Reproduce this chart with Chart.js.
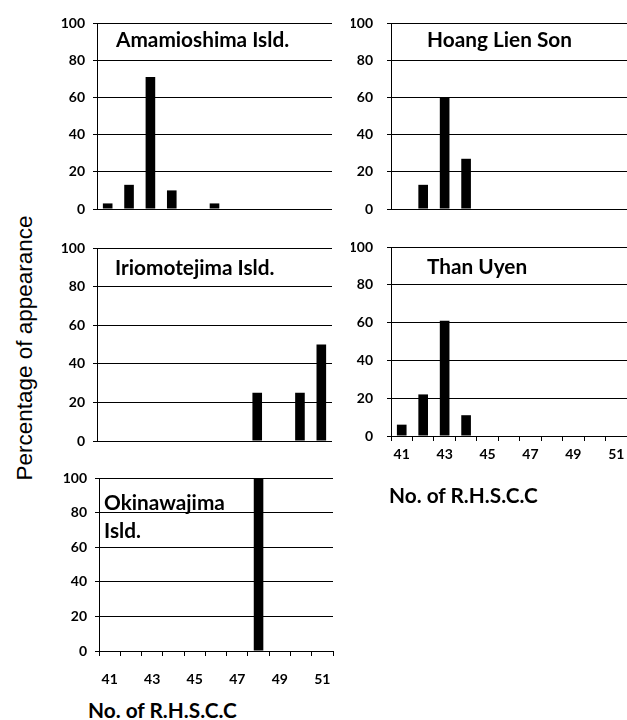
<!DOCTYPE html>
<html>
<head>
<meta charset="utf-8">
<script src="https://cdn.jsdelivr.net/npm/chart.js@4"></script>
<style>
  body { margin: 0; background: #fff; width: 627px; height: 720px; overflow: hidden; position: relative; }
  canvas { position: absolute; }
  .lbl { position: absolute; font-family: Lato, sans-serif; font-weight: bold; font-size: 20.8px; line-height: 22px; color: #000; white-space: nowrap; }
  #ytitle { position: absolute; font-family: "Liberation Sans", Arial, sans-serif; font-size: 22.5px; line-height: 26px; white-space: nowrap;
            left: 25px; top: 348px; transform: translate(-50%, -50%) rotate(-90deg); }
</style>
</head>
<body>
<canvas id="c1"></canvas>
<canvas id="c2"></canvas>
<canvas id="c3"></canvas>
<canvas id="c4"></canvas>
<canvas id="c5"></canvas>

<div class="lbl" style="left:116px; top:28px;">Amamioshima Isld.</div>
<div class="lbl" style="left:427px; top:28px;">Hoang Lien Son</div>
<div class="lbl" style="left:115px; top:256px;">Iriomotejima Isld.</div>
<div class="lbl" style="left:427px; top:255px;">Than Uyen</div>
<div class="lbl" style="left:104px; top:491px;">Okinawajima</div>
<div class="lbl" style="left:104px; top:519px;">Isld.</div>
<div class="lbl" style="left:389px; top:484px;">No. of R.H.S.C.C</div>
<div class="lbl" style="left:88px; top:699px;">No. of R.H.S.C.C</div>
<div id="ytitle">Percentage of appearance</div>

<script>
// No. of R.H.S.C.C
const categories = ['41', '42', '43', '44', '45', '46', '47', '48', '49', '50', '51'];
const amamioshima  = [3, 13, 71, 10, 0, 3, 0, 0, 0, 0, 0];
const hoangLienSon = [0, 13, 60, 27, 0, 0, 0, 0, 0, 0, 0];
const iriomotejima = [0, 0, 0, 0, 0, 0, 0, 25, 0, 25, 50];
const thanUyen     = [6, 22, 61, 11, 0, 0, 0, 0, 0, 0, 0];
const okinawajima  = [0, 0, 0, 0, 0, 0, 0, 100, 0, 0, 0];
const yMax = 100;
const yStep = 20;

const tickFont = { family: 'Lato', weight: 'bold', size: 14 };

// box = chart area in page pixels
function makePanel(id, data, box, opts) {
    const yW = 40;
    // chart.js adds half a label + ticks.padding above/below the y axis, keep layout padding >= that
    const pad = Math.ceil(9 + opts.yPad) + 1;
    const xH = opts.showX ? 36 : 0;
    // same thing on the right for the x labels
    const padR = opts.showX ? opts.xPad + 2 : 0;
    const cv = document.getElementById(id);
    const w = box.right - box.left + yW + padR;
    const h = box.bottom - box.top + pad + (opts.showX ? xH : pad);
    cv.width = w; cv.height = h;
    cv.style.width = w + 'px'; cv.style.height = h + 'px';
    cv.style.left = (box.left - yW) + 'px';
    cv.style.top = (box.top - pad) + 'px';

    const xScale = {
        display: opts.showX,
        offset: true,
        grid: { display: true, offset: true, drawOnChartArea: false, color: '#000', tickLength: 5 },
        border: { display: true, color: '#000', width: 1 },
        ticks: {
            autoSkip: false, maxRotation: 0, color: '#000', font: tickFont,
            padding: opts.xPad || 6,
            callback: function (v, i) { return i % 2 === 0 ? categories[i] : ''; }
        }
    };
    if (opts.showX) xScale.afterFit = function (s) { s.height = xH; };

    new Chart(cv.getContext('2d'), {
        type: 'bar',
        data: {
            labels: categories,
            datasets: [{
                data: data,
                backgroundColor: '#000',
                barPercentage: 0.45,
                categoryPercentage: 1
            }]
        },
        options: {
            responsive: false,
            animation: false,
            layout: { padding: { top: pad, right: padR, left: 0, bottom: opts.showX ? 0 : pad } },
            plugins: { legend: { display: false }, tooltip: { enabled: false } },
            scales: {
                x: xScale,
                y: {
                    min: 0, max: yMax,
                    ticks: { stepSize: yStep, color: '#000', font: tickFont, padding: opts.yPad },
                    grid: { color: '#000', lineWidth: 1, tickLength: 4 },
                    border: { color: '#000', width: 1 },
                    afterFit: function (s) { s.width = yW; }
                }
            }
        }
    });
}

makePanel('c1', amamioshima,  { left: 97,  right: 332, top: 23,  bottom: 209 }, { showX: false, yPad: 8 });
makePanel('c2', hoangLienSon, { left: 391, right: 627, top: 23,  bottom: 209 }, { showX: false, yPad: 14 });
makePanel('c3', iriomotejima, { left: 97,  right: 332, top: 248, bottom: 441 }, { showX: false, yPad: 8 });
makePanel('c4', thanUyen,     { left: 391, right: 627, top: 247, bottom: 436 }, { showX: true, yPad: 14, xPad: 5 });
makePanel('c5', okinawajima,  { left: 99,  right: 333, top: 478, bottom: 651 }, { showX: true, yPad: 8, xPad: 15 });
</script>
</body>
</html>
